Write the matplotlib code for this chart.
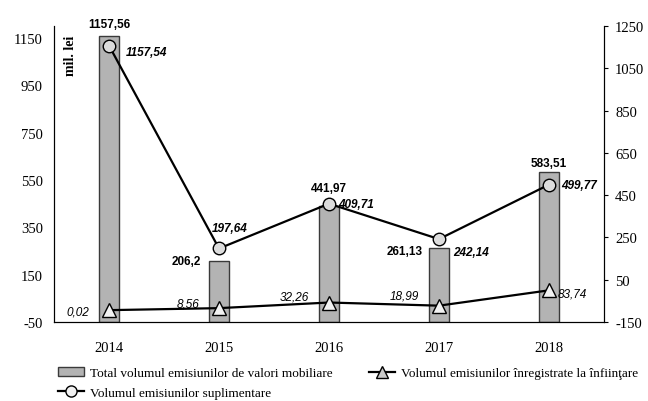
import matplotlib
matplotlib.use('Agg')
import matplotlib.pyplot as plt
from matplotlib.lines import Line2D
from matplotlib.patches import Patch
import numpy as np

plt.rcParams['axes.unicode_minus'] = False

years = ['2014', '2015', '2016', '2017', '2018']
total_vol = [1157.56, 206.2, 441.97, 261.13, 583.51]       # bars, left axis
founding_vol = [0.02, 8.56, 32.26, 18.99, 83.74]          # triangles, left axis
additional_vol = [1157.54, 197.64, 409.71, 242.14, 499.77]  # circles, right axis

total_lbl = ['1157,56', '206,2', '441,97', '261,13', '583,51']
founding_lbl = ['0,02', '8,56', '32,26', '18,99', '83,74']
additional_lbl = ['1157,54', '197,64', '409,71', '242,14', '499,77']

serif = 'Liberation Serif'
sans = 'Liberation Sans'
PX = 0.72  # pixels -> points at 100 dpi
LEFT_MIN = -50

fig = plt.figure(figsize=(6.48, 4.02), dpi=100)
ax = fig.add_axes([54/648, 1 - 323/402, 550/648, 296/402])
ax2 = ax.twinx()

x = np.arange(len(years))
# bars rise from the bottom of the left axis
ax.bar(x, [v - LEFT_MIN for v in total_vol], bottom=LEFT_MIN, width=0.18, color='#b3b3b3',
       edgecolor='#3a3a3a', linewidth=1.0, zorder=2)
ax.plot(x, founding_vol, '-^', color='black', lw=1.6, markersize=10,
        markerfacecolor='#f2f2f2', markeredgecolor='black', markeredgewidth=1.0, zorder=3)
ax2.plot(x, additional_vol, '-o', color='black', lw=1.6, markersize=9,
         markerfacecolor='#dcdcdc', markeredgecolor='black', markeredgewidth=1.0, zorder=3)

ax.set_xlim(-0.5, 4.5)
ax.set_ylim(LEFT_MIN, 1200)
ax2.set_ylim(-150, 1250)
ax.set_yticks(np.arange(-50, 1151, 200))
ax2.set_yticks(np.arange(-150, 1251, 200))
ax.set_xticks(x)
ax.set_xticklabels(years)

for a in (ax, ax2):
    a.spines['top'].set_visible(False)
    for lab in a.get_xticklabels() + a.get_yticklabels():
        lab.set_fontfamily(serif)
        lab.set_fontsize(10.5)
ax.tick_params(axis='x', length=0, pad=14)
ax.tick_params(axis='y', length=0, pad=8)
ax2.tick_params(axis='y', length=3, pad=5)

ax.text(0.03, 0.97, 'mil. lei', transform=ax.transAxes, rotation=90, ha='center', va='top',
        fontfamily=serif, fontweight='bold', fontsize=10)

# bar labels (offsets in px)
bar_off = [(0, 6, 'center', 'bottom'), (-18, 0, 'right', 'center'), (0, 12, 'center', 'bottom'),
           (-16, -3, 'right', 'center'), (0, 3, 'center', 'bottom')]
for i, (dx, dy, ha, va) in enumerate(bar_off):
    ax.annotate(total_lbl[i], (x[i], total_vol[i]), xytext=(dx*PX, dy*PX), textcoords='offset points',
                ha=ha, va=va, fontfamily=sans, fontweight='bold', fontsize=8.5)

# circle labels
circ_off = [(17, -6, 'left', 'center'), (11, 20, 'center', 'center'), (9, 0, 'left', 'center'),
            (14, -13, 'left', 'center'), (12, 0, 'left', 'center')]
for i, (dx, dy, ha, va) in enumerate(circ_off):
    ax2.annotate(additional_lbl[i], (x[i], additional_vol[i]), xytext=(dx*PX, dy*PX),
                 textcoords='offset points', ha=ha, va=va, fontfamily=sans,
                 fontweight='bold', fontstyle='italic', fontsize=8.5)

# triangle labels
tri_off = [(-20, -1, 'right', 'center'), (-20, 5, 'right', 'center'), (-20, 6, 'right', 'center'),
           (-20, 10, 'right', 'center'), (9, -3, 'left', 'center')]
for i, (dx, dy, ha, va) in enumerate(tri_off):
    ax.annotate(founding_lbl[i], (x[i], founding_vol[i]), xytext=(dx*PX, dy*PX),
                textcoords='offset points', ha=ha, va=va, fontfamily=sans,
                fontstyle='italic', fontsize=8.5)

handles = [
    Patch(facecolor='#b3b3b3', edgecolor='#3a3a3a'),
    Line2D([], [], color='black', lw=1.6, marker='o', markersize=8,
           markerfacecolor='#f2f2f2', markeredgecolor='black'),
    Line2D([], [], color='black', lw=1.6, marker='^', markersize=9,
           markerfacecolor='#c8c8c8', markeredgecolor='black'),
]
labels = ['Total volumul emisiunilor de valori mobiliare',
          'Volumul emisiunilor suplimentare',
          'Volumul emisiunilor înregistrate la înfiinţare']
fig.legend(handles, labels, ncol=2, loc='upper left', bbox_to_anchor=(58/648, 1 - 368/402),
           frameon=False, borderpad=0, borderaxespad=0, handlelength=2.0, handletextpad=0.45,
           columnspacing=2.7, labelspacing=0.55, prop={'family': serif, 'size': 9.5})

fig.savefig('out.png', dpi=100)
